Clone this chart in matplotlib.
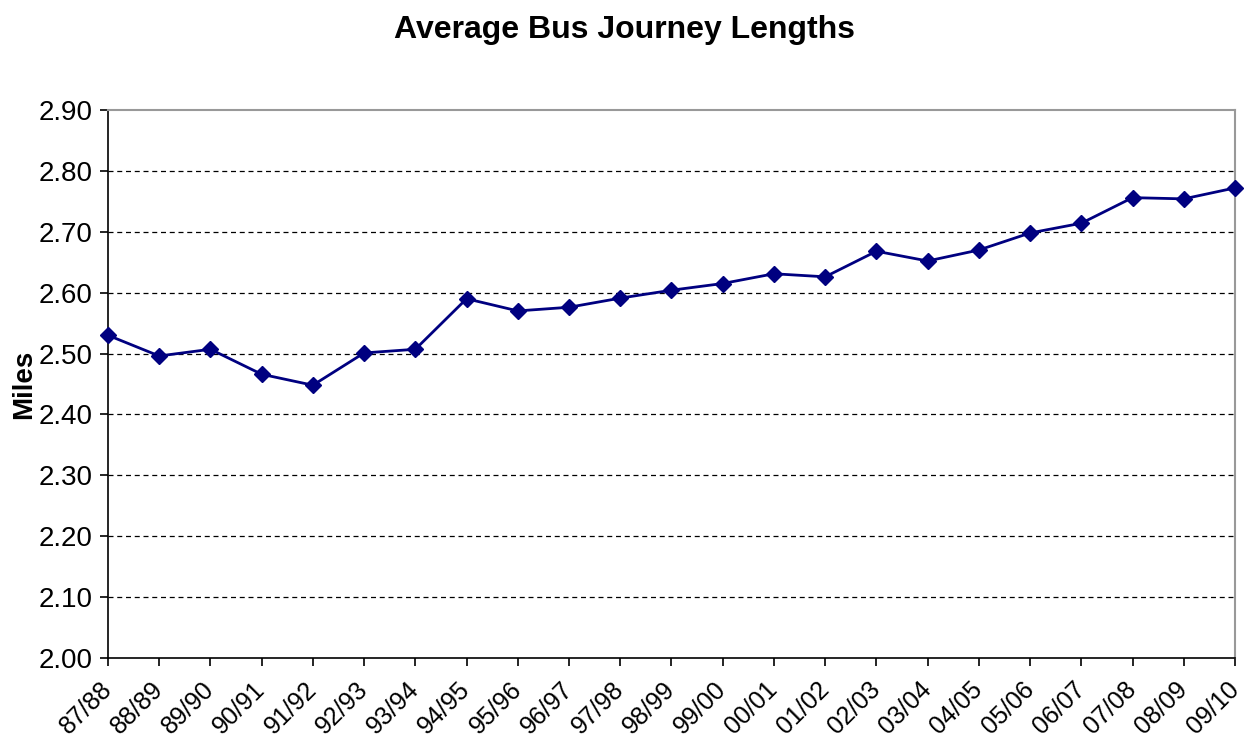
import matplotlib.pyplot as plt

years = ['87/88', '88/89', '89/90', '90/91', '91/92', '92/93', '93/94', '94/95',
         '95/96', '96/97', '97/98', '98/99', '99/00', '00/01', '01/02', '02/03',
         '03/04', '04/05', '05/06', '06/07', '07/08', '08/09', '09/10']
miles = [2.530, 2.496, 2.507, 2.466, 2.448, 2.501, 2.507, 2.590,
         2.570, 2.576, 2.591, 2.604, 2.615, 2.631, 2.626, 2.668,
         2.652, 2.670, 2.698, 2.714, 2.756, 2.754, 2.772]
yticks = [2.00, 2.10, 2.20, 2.30, 2.40, 2.50, 2.60, 2.70, 2.80, 2.90]

plt.rcParams['font.family'] = ['Liberation Sans', 'DejaVu Sans']

fig = plt.figure(figsize=(12.48, 7.40), dpi=100)
ax = fig.add_axes([0.0865, 0.1108, 0.9031, 0.7406])

x = list(range(len(years)))
ax.plot(x, miles, color='#000080', linewidth=2, marker='D', markersize=8,
        zorder=3, clip_on=False)

ax.set_xlim(0, len(years) - 1)
ax.set_ylim(2.0, 2.9)
ax.set_yticks(yticks)
ax.set_yticklabels([f'{v:.2f}' for v in yticks], fontsize=20)
ax.set_xticks(x)
ax.set_xticklabels(years, rotation=45, ha='right', va='center',
                   rotation_mode='anchor', fontsize=18)
ax.tick_params(axis='both', direction='out', length=6, width=1.2, color='black')
ax.tick_params(axis='x', pad=14)
ax.tick_params(axis='y', pad=5)

for v in yticks[1:-1]:
    ax.axhline(v, color='black', linestyle=(0, (4, 3)), linewidth=0.9, zorder=1)

for side in ['left', 'bottom']:
    ax.spines[side].set_color('black')
    ax.spines[side].set_linewidth(1.2)
for side in ['top', 'right']:
    ax.spines[side].set_color('#999999')
    ax.spines[side].set_linewidth(1.5)

ax.set_ylabel('Miles', fontsize=20, fontweight='bold', labelpad=1)
fig.suptitle('Average Bus Journey Lengths', fontsize=23, fontweight='bold',
             x=0.5, y=0.98)

fig.savefig('out.png', dpi=100)
